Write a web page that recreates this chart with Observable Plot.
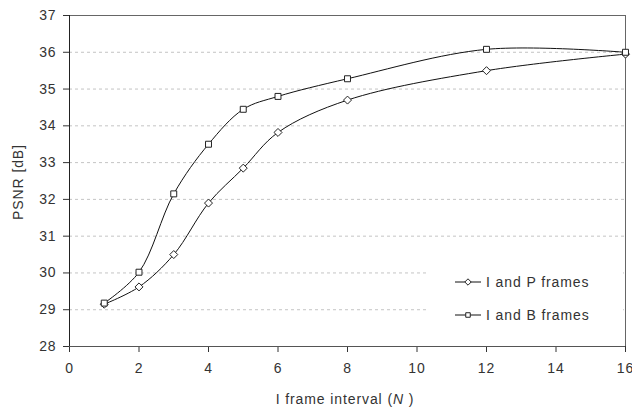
<!DOCTYPE html>
<html>
<head>
<meta charset="utf-8">
<script src="https://cdn.jsdelivr.net/npm/d3@7"></script>
<script src="https://cdn.jsdelivr.net/npm/@observablehq/plot@0.6"></script>
<style>
  body { margin: 0; background: #fff; }
  svg { font-family: "Liberation Sans", Arial, sans-serif; }
  svg text { letter-spacing: 0.9px; }
</style>
</head>
<body>
<div id="chart"></div>
<script>
const intervals = [1, 2, 3, 4, 5, 6, 8, 12, 16];
const psnrIP = [29.15, 29.62, 30.5, 31.9, 32.85, 33.82, 34.7, 35.5, 35.95];
const psnrIB = [29.18, 30.02, 32.15, 33.5, 34.45, 34.8, 35.28, 36.08, 36.0];
const seriesNames = ["I and P frames", "I and B frames"];
const xTicks = [0, 2, 4, 6, 8, 10, 12, 14, 16];
const yTicks = [28, 29, 30, 31, 32, 33, 34, 35, 36, 37];
const gridValues = [29, 30, 31, 32, 33, 34, 35, 36];

const ip = intervals.map((n, i) => ({n, v: psnrIP[i]}));
const ib = intervals.map((n, i) => ({n, v: psnrIB[i]}));

const plot = Plot.plot({
  width: 632,
  height: 413,
  marginLeft: 69,
  marginRight: 7,
  marginTop: 15,
  marginBottom: 67,
  style: {fontFamily: '"Liberation Sans", Arial, sans-serif', fontSize: "14px", color: "#333", background: "#fff"},
  x: {domain: [0, 16], label: null},
  y: {domain: [28, 37], label: null},
  marks: [
    Plot.ruleY(gridValues, {stroke: "#c4c4c4", strokeDasharray: "3,3"}),
    Plot.ruleY([37], {stroke: "#666"}),
    Plot.ruleX([16], {stroke: "#666"}),
    Plot.axisX({ticks: xTicks, tickSize: 6, tickPadding: 11, stroke: "#333", fill: "#333", fontSize: 14}),
    Plot.axisY({ticks: yTicks, tickSize: 6, tickPadding: 7, stroke: "#333", fill: "#333", fontSize: 14}),
    Plot.ruleX([0], {stroke: "#222"}),
    Plot.ruleY([28], {stroke: "#555"}),
    Plot.line(ip, {x: "n", y: "v", curve: "catmull-rom", stroke: "#111", strokeWidth: 1}),
    Plot.line(ib, {x: "n", y: "v", curve: "catmull-rom", stroke: "#111", strokeWidth: 1}),
    Plot.dot(ip, {x: "n", y: "v", symbol: "diamond2", r: 3.6, stroke: "#222", fill: "#fff", strokeWidth: 1}),
    Plot.dot(ib, {x: "n", y: "v", symbol: "square2", r: 3.8, stroke: "#222", fill: "#fff", strokeWidth: 1})
  ]
});
document.getElementById("chart").appendChild(plot);

const svg = d3.select(plot);
// y label
svg.append("text")
  .attr("transform", "translate(23,182) rotate(-90)")
  .attr("text-anchor", "middle")
  .attr("font-size", 14)
  .attr("fill", "#333")
  .text("PSNR [dB]");
// x label with italic N
const xl = svg.append("text")
  .attr("x", 345).attr("y", 404)
  .attr("text-anchor", "middle")
  .attr("font-size", 14)
  .attr("fill", "#333");
xl.append("tspan").text("I frame interval (");
xl.append("tspan").attr("font-style", "italic").text("N");
xl.append("tspan").text(" )");

// legend
const lg = svg.append("g").attr("text-anchor", "start");
lg.append("rect").attr("x", 427).attr("y", 262).attr("width", 196).attr("height", 76).attr("fill", "#fff");
const sym = [d3.symbolDiamond2, d3.symbolSquare2];
const ly = [282, 315];
seriesNames.forEach((name, i) => {
  lg.append("line").attr("x1", 455).attr("x2", 481).attr("y1", ly[i]).attr("y2", ly[i]).attr("stroke", "#111");
  lg.append("path").attr("d", d3.symbol(sym[i], 26)()).attr("transform", `translate(468,${ly[i]})`)
    .attr("fill", "#fff").attr("stroke", "#222");
  lg.append("text").attr("x", 486).attr("y", ly[i] + 5).attr("text-anchor", "start")
    .attr("font-size", 14).attr("fill", "#333").text(name);
});
</script>
</body>
</html>
